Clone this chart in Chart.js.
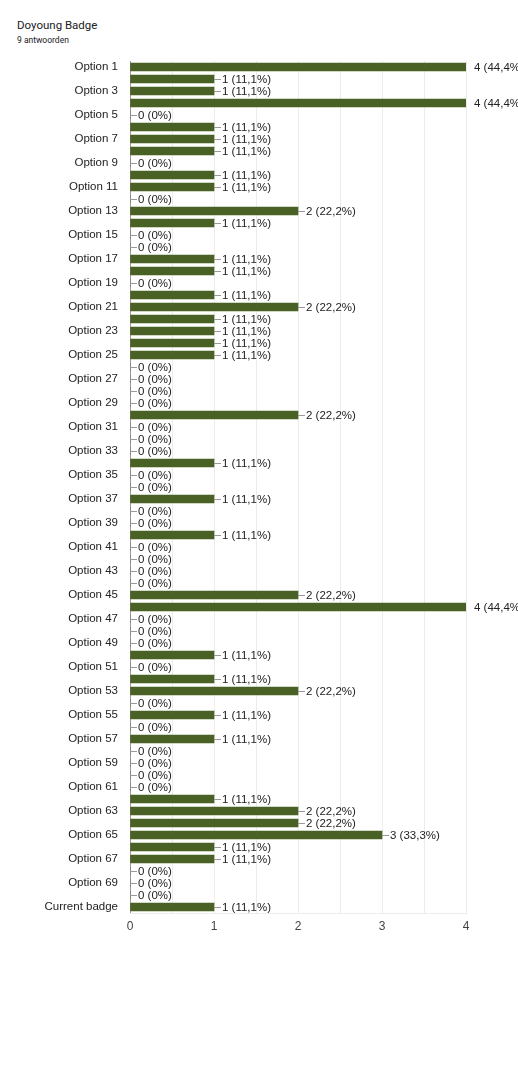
<!DOCTYPE html>
<html>
<head>
<meta charset="utf-8">
<script src="https://cdn.jsdelivr.net/npm/chart.js@4/dist/chart.umd.min.js"></script>
<style>
  html, body { margin: 0; padding: 0; background: #fff; }
  body { width: 518px; height: 1080px; position: relative; overflow: hidden; }
  #title { position: absolute; left: 17px; top: 18px; font-family: Roboto, Arial, sans-serif; font-size: 11.5px; color: #202124; }
  #sub { position: absolute; left: 17px; top: 35px; font-family: Roboto, Arial, sans-serif; font-size: 8.5px; color: #202124; }
  #c { position: absolute; left: 0; top: 0; }
</style>
</head>
<body>
<div id="title">Doyoung Badge</div>
<div id="sub">9 antwoorden</div>
<canvas id="c" width="518" height="940"></canvas>
<script>
const totalResponses = 9;
const categories = [
  "Option 1","Option 2","Option 3","Option 4","Option 5","Option 6","Option 7","Option 8","Option 9","Option 10",
  "Option 11","Option 12","Option 13","Option 14","Option 15","Option 16","Option 17","Option 18","Option 19","Option 20",
  "Option 21","Option 22","Option 23","Option 24","Option 25","Option 26","Option 27","Option 28","Option 29","Option 30",
  "Option 31","Option 32","Option 33","Option 34","Option 35","Option 36","Option 37","Option 38","Option 39","Option 40",
  "Option 41","Option 42","Option 43","Option 44","Option 45","Option 46","Option 47","Option 48","Option 49","Option 50",
  "Option 51","Option 52","Option 53","Option 54","Option 55","Option 56","Option 57","Option 58","Option 59","Option 60",
  "Option 61","Option 62","Option 63","Option 64","Option 65","Option 66","Option 67","Option 68","Option 69","Option 70",
  "Current badge"
];
const counts = [
  4,1,1,4,0,1,1,1,0,1,
  1,0,2,1,0,0,1,1,0,1,
  2,1,1,1,1,0,0,0,0,2,
  0,0,0,1,0,0,1,0,0,1,
  0,0,0,0,2,4,0,0,0,1,
  0,1,2,0,1,0,1,0,0,0,
  0,1,2,2,3,1,1,0,0,0,
  1
];
const xTicks = [0, 1, 2, 3, 4];

function pctLabel(v) {
  if (v === 0) return "0 (0%)";
  const p = (v / totalResponses * 100).toFixed(1).replace(".", ",");
  return v + " (" + p + "%)";
}

const labelPlugin = {
  id: "barLabels",
  afterDatasetsDraw(chart) {
    const ctx = chart.ctx;
    const meta = chart.getDatasetMeta(0);
    const area = chart.chartArea;
    ctx.save();
    ctx.font = "11.5px Arial, 'Liberation Sans', sans-serif";
    ctx.textBaseline = "middle";
    ctx.textAlign = "left";
    meta.data.forEach((bar, i) => {
      const v = counts[i];
      const x = bar.x, y = bar.y;
      if (x < area.right - 1) {
        ctx.strokeStyle = "#999";
        ctx.lineWidth = 1;
        ctx.beginPath();
        ctx.moveTo(x, Math.round(y) + 0.5);
        ctx.lineTo(x + 7, Math.round(y) + 0.5);
        ctx.stroke();
      }
      ctx.fillStyle = "#222";
      ctx.fillText(pctLabel(v), x + 8, y + 0.5);
    });
    ctx.restore();
  }
};

new Chart(document.getElementById("c"), {
  type: "bar",
  data: {
    labels: categories,
    datasets: [{
      data: counts,
      backgroundColor: "#4a6125",
      borderWidth: 0,
      barThickness: 8
    }]
  },
  options: {
    indexAxis: "y",
    responsive: false,
    animation: false,
    devicePixelRatio: 1,
    layout: { padding: { left: 0, right: 52, top: 61, bottom: 0 } },
    plugins: { legend: { display: false }, tooltip: { enabled: false } },
    scales: {
      y: {
        grid: { display: false, drawTicks: false },
        border: { display: true, color: "#9e9e9e", width: 1 },
        ticks: {
          autoSkip: false,
          padding: 12,
          color: "#222",
          font: { family: "Arial, 'Liberation Sans', sans-serif", size: 11.5 },
          callback: (val, idx) => (idx % 2 === 0 ? categories[idx] : "")
        },
        afterFit(scale) { scale.width = 130; }
      },
      x: {
        min: 0,
        max: 4,
        grid: { color: "#ececec", drawTicks: false },
        border: { display: true, color: "#ececec" },
        ticks: {
          stepSize: 0.5,
          padding: 6,
          color: "#444",
          font: { family: "Arial, 'Liberation Sans', sans-serif", size: 12 },
          callback: (val) => (xTicks.includes(val) ? String(val) : "")
        },
        afterFit(scale) { scale.height = 27; }
      }
    }
  },
  plugins: [labelPlugin]
});
</script>
</body>
</html>
